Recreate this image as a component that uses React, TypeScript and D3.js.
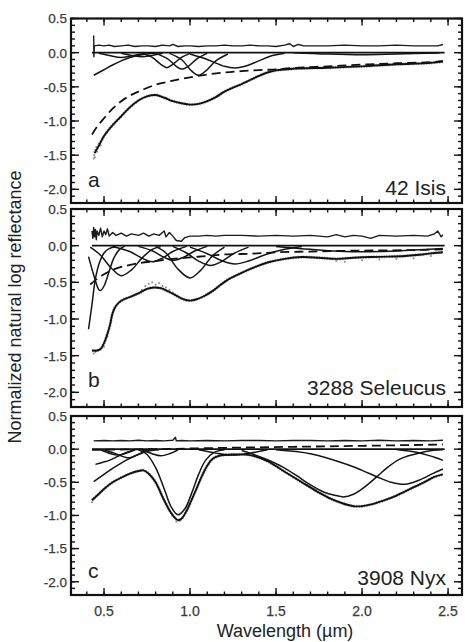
import React from "react";
import * as d3 from "d3";

type P = [number, number];

// ---------- tick values ----------
const X_TICKS = [0.5, 1.0, 1.5, 2.0, 2.5];
const X_TICK_LABELS = ["0.5", "1.0", "1.5", "2.0", "2.5"];
const Y_TICKS = [0.5, 0.0, -0.5, -1.0, -1.5, -2.0];
const Y_TICK_LABELS = ["0.5", "0.0", "-0.5", "-1.0", "-1.5", "-2.0"];
const PANEL_LETTERS = ["a", "b", "c"];
const PANEL_NAMES = ["42 Isis", "3288 Seleucus", "3908 Nyx"];

// ---------- panel a : 42 Isis ----------
const RES_A: P[] = [[0.44,0.25],[0.441,-0.06],[0.444,0.1],[0.47,0.11],[0.5,0.1],[0.53,0.11],[0.56,0.09],[0.6,0.1],[0.64,0.11],[0.68,0.09],[0.72,0.1],[0.76,0.1],[0.8,0.09],[0.84,0.11],[0.88,0.1],[0.9,0.12],[0.93,0.09],[0.97,0.1],[1.0,0.1],[1.05,0.09],[1.1,0.1],[1.15,0.1],[1.2,0.11],[1.25,0.1],[1.3,0.1],[1.35,0.11],[1.4,0.1],[1.45,0.1],[1.5,0.09],[1.55,0.11],[1.58,0.13],[1.6,0.09],[1.63,0.12],[1.66,0.1],[1.7,0.1],[1.8,0.1],[1.9,0.11],[2.0,0.1],[2.1,0.1],[2.2,0.11],[2.3,0.1],[2.38,0.1],[2.44,0.1],[2.47,0.12]];
const FIT_A: P[] = [[0.445,-1.47],[0.47,-1.36],[0.5,-1.22],[0.55,-1.06],[0.6,-0.93],[0.65,-0.8],[0.7,-0.7],[0.75,-0.64],[0.8,-0.62],[0.85,-0.66],[0.9,-0.71],[0.95,-0.74],[1.0,-0.76],[1.05,-0.75],[1.1,-0.71],[1.15,-0.65],[1.2,-0.57],[1.25,-0.51],[1.3,-0.46],[1.35,-0.4],[1.4,-0.34],[1.45,-0.29],[1.5,-0.26],[1.6,-0.235],[1.8,-0.22],[2.0,-0.2],[2.2,-0.17],[2.4,-0.15],[2.47,-0.13]];
const DATA_A: P[] = [[0.44,-1.55],[0.443,-1.5],[0.447,-1.53],[0.45,-1.42],[0.455,-1.38],[0.46,-1.45],[0.47,-1.33],[0.48,-1.36]];
const CONT_A: P[] = [[0.43,-1.2],[0.46,-1.08],[0.5,-0.96],[0.55,-0.82],[0.6,-0.71],[0.65,-0.63],[0.7,-0.57],[0.8,-0.47],[0.9,-0.41],[1.0,-0.36],[1.1,-0.32],[1.2,-0.29],[1.3,-0.27],[1.4,-0.255],[1.5,-0.245],[1.6,-0.225],[1.8,-0.2],[2.0,-0.175],[2.2,-0.155],[2.4,-0.14],[2.47,-0.125]];
const BANDS_A: P[][] = [
  [[0.44,-0.33],[0.5,-0.25],[0.55,-0.18],[0.6,-0.12],[0.65,-0.07],[0.72,-0.03],[0.8,-0.01]],
  [[0.47,-0.01],[0.53,-0.04],[0.6,-0.07],[0.67,-0.04],[0.74,-0.01]],
  [[0.6,-0.01],[0.66,-0.04],[0.72,-0.06],[0.78,-0.04],[0.84,-0.01]],
  [[0.72,-0.01],[0.78,-0.07],[0.83,-0.17],[0.865,-0.22],[0.9,-0.17],[0.95,-0.07],[1.0,-0.01]],
  [[0.8,-0.01],[0.87,-0.09],[0.92,-0.2],[0.95,-0.24],[0.99,-0.2],[1.04,-0.09],[1.1,-0.01]],
  [[0.88,-0.01],[0.95,-0.1],[1.01,-0.27],[1.05,-0.33],[1.09,-0.27],[1.15,-0.12],[1.22,-0.02]],
  [[1.0,-0.02],[1.1,-0.1],[1.2,-0.2],[1.26,-0.225],[1.32,-0.2],[1.4,-0.12],[1.47,-0.05],[1.55,-0.01]],
  [[1.6,0],[1.8,-0.02],[2.0,-0.03],[2.2,-0.02],[2.45,-0.005]],
];

// ---------- panel b : 3288 Seleucus ----------
const RES_B: P[] = [[0.43,0.2],[0.435,0.1],[0.44,0.25],[0.445,0.12],[0.45,0.22],[0.455,0.08],[0.46,0.2],[0.47,0.14],[0.48,0.24],[0.49,0.12],[0.5,0.2],[0.51,0.15],[0.52,0.23],[0.53,0.13],[0.55,0.18],[0.57,0.14],[0.6,0.17],[0.63,0.13],[0.66,0.16],[0.7,0.14],[0.73,0.17],[0.76,0.13],[0.79,0.16],[0.82,0.14],[0.85,0.2],[0.86,0.12],[0.88,0.18],[0.9,0.13],[0.92,0.07],[0.95,0.06],[0.97,0.11],[1.0,0.13],[1.05,0.13],[1.1,0.14],[1.15,0.13],[1.2,0.14],[1.3,0.14],[1.4,0.13],[1.5,0.14],[1.6,0.13],[1.7,0.14],[1.8,0.12],[1.85,0.15],[1.9,0.12],[1.95,0.14],[2.0,0.13],[2.05,0.1],[2.1,0.14],[2.2,0.13],[2.3,0.14],[2.38,0.13],[2.42,0.16],[2.44,0.2],[2.46,0.12],[2.47,0.15]];
const FIT_B: P[] = [[0.43,-1.43],[0.46,-1.43],[0.48,-1.41],[0.5,-1.33],[0.52,-1.2],[0.535,-1.08],[0.55,-0.92],[0.57,-0.82],[0.6,-0.75],[0.65,-0.7],[0.7,-0.65],[0.75,-0.59],[0.79,-0.57],[0.83,-0.58],[0.87,-0.62],[0.92,-0.68],[0.96,-0.73],[1.0,-0.75],[1.04,-0.73],[1.08,-0.69],[1.13,-0.62],[1.18,-0.53],[1.23,-0.45],[1.3,-0.37],[1.38,-0.29],[1.45,-0.23],[1.55,-0.18],[1.65,-0.155],[1.75,-0.165],[1.85,-0.18],[1.95,-0.165],[2.05,-0.155],[2.15,-0.15],[2.25,-0.14],[2.35,-0.12],[2.42,-0.1],[2.47,-0.09]];
const DATA_B: P[] = [[0.44,-1.47],[0.45,-1.45],[0.5,-1.38],[0.51,-1.28],[0.52,-1.24],[0.54,-1.02],[0.72,-0.6],[0.74,-0.55],[0.76,-0.52],[0.78,-0.5],[0.8,-0.53],[0.82,-0.51],[0.84,-0.55],[0.86,-0.57],[0.88,-0.6],[0.9,-0.64],[1.85,-0.21],[1.9,-0.22],[2.0,-0.2],[2.1,-0.19],[2.2,-0.18],[2.3,-0.17],[2.4,-0.14]];
const CONT_B: P[] = [[0.42,-0.53],[0.45,-0.47],[0.5,-0.39],[0.55,-0.33],[0.6,-0.29],[0.7,-0.24],[0.8,-0.21],[0.9,-0.18],[1.0,-0.16],[1.1,-0.14],[1.2,-0.12],[1.35,-0.11],[1.5,-0.09],[1.7,-0.08],[1.9,-0.07],[2.1,-0.065],[2.3,-0.06],[2.47,-0.05]];
const BANDS_B: P[][] = [
  [[0.41,-1.14],[0.43,-0.8],[0.45,-0.45],[0.475,-0.22],[0.5,-0.1],[0.53,-0.04],[0.57,-0.01]],
  [[0.41,-0.15],[0.44,-0.4],[0.47,-0.6],[0.48,-0.61],[0.5,-0.55],[0.53,-0.35],[0.555,-0.18],[0.59,-0.05],[0.62,-0.01]],
  [[0.42,-0.02],[0.48,-0.13],[0.54,-0.3],[0.6,-0.41],[0.66,-0.33],[0.72,-0.17],[0.78,-0.05],[0.83,-0.01]],
  [[0.55,-0.01],[0.65,-0.08],[0.72,-0.17],[0.78,-0.22],[0.84,-0.17],[0.9,-0.08],[0.98,-0.01]],
  [[0.7,-0.01],[0.78,-0.07],[0.85,-0.16],[0.9,-0.2],[0.96,-0.16],[1.03,-0.07],[1.1,-0.01]],
  [[0.8,-0.01],[0.86,-0.1],[0.93,-0.32],[1.0,-0.44],[1.06,-0.34],[1.13,-0.14],[1.2,-0.02]],
  [[0.9,-0.01],[0.98,-0.1],[1.05,-0.21],[1.12,-0.27],[1.18,-0.22],[1.26,-0.1],[1.34,-0.02]],
  [[1.0,-0.02],[1.1,-0.11],[1.19,-0.21],[1.26,-0.25],[1.34,-0.21],[1.44,-0.12],[1.55,-0.05],[1.65,-0.01]],
  [[1.5,-0.01],[1.7,-0.05],[1.9,-0.08],[2.1,-0.08],[2.3,-0.06],[2.47,-0.04]],
];

// ---------- panel c : 3908 Nyx ----------
const RES_C: P[] = [[0.44,0.125],[0.5,0.13],[0.55,0.125],[0.6,0.13],[0.65,0.125],[0.7,0.135],[0.75,0.125],[0.8,0.13],[0.85,0.125],[0.9,0.135],[0.915,0.18],[0.92,0.125],[0.95,0.13],[1.0,0.125],[1.1,0.13],[1.2,0.125],[1.3,0.13],[1.4,0.13],[1.5,0.125],[1.6,0.13],[1.7,0.13],[1.8,0.125],[1.9,0.13],[2.0,0.125],[2.1,0.135],[2.2,0.125],[2.3,0.13],[2.4,0.125],[2.47,0.135]];
const FIT_C: P[] = [[0.43,-0.77],[0.46,-0.7],[0.5,-0.6],[0.55,-0.5],[0.6,-0.43],[0.65,-0.37],[0.7,-0.33],[0.73,-0.32],[0.76,-0.37],[0.8,-0.5],[0.84,-0.72],[0.88,-0.92],[0.91,-1.03],[0.93,-1.07],[0.95,-1.05],[0.98,-0.93],[1.01,-0.76],[1.04,-0.58],[1.07,-0.4],[1.1,-0.25],[1.13,-0.15],[1.17,-0.1],[1.25,-0.08],[1.35,-0.09],[1.45,-0.18],[1.55,-0.34],[1.65,-0.5],[1.74,-0.64],[1.82,-0.75],[1.89,-0.82],[1.95,-0.86],[2.0,-0.86],[2.06,-0.83],[2.12,-0.78],[2.2,-0.7],[2.28,-0.6],[2.36,-0.5],[2.42,-0.42],[2.47,-0.38]];
const DATA_C: P[] = [[0.43,-0.8],[0.44,-0.75],[0.92,-1.09],[0.94,-1.08],[1.9,-0.84],[1.95,-0.87],[2.0,-0.87]];
const CONT_C: P[] = [[0.43,-0.01],[0.8,0.0],[1.2,0.02],[1.6,0.035],[2.0,0.05],[2.47,0.07]];
const BANDS_C: P[][] = [
  [[0.7,-0.01],[0.75,-0.08],[0.8,-0.28],[0.85,-0.6],[0.89,-0.87],[0.93,-0.99],[0.97,-0.9],[1.01,-0.66],[1.05,-0.38],[1.09,-0.17],[1.14,-0.05],[1.2,-0.01]],
  [[0.44,-0.49],[0.5,-0.38],[0.55,-0.29],[0.6,-0.21],[0.65,-0.14],[0.7,-0.08],[0.76,-0.03],[0.82,-0.01]],
  [[0.45,-0.23],[0.49,-0.2],[0.53,-0.17],[0.58,-0.11],[0.63,-0.05],[0.68,-0.01]],
  [[0.5,-0.01],[0.56,-0.06],[0.62,-0.12],[0.65,-0.13],[0.69,-0.09],[0.74,-0.03],[0.78,-0.005]],
  [[0.48,-0.01],[0.54,-0.07],[0.58,-0.09],[0.63,-0.06],[0.68,-0.01]],
  [[0.72,-0.01],[0.78,-0.07],[0.83,-0.1],[0.88,-0.07],[0.93,-0.01]],
  [[1.05,-0.01],[1.15,-0.06],[1.25,-0.09],[1.35,-0.06],[1.45,-0.01]],
  [[1.3,-0.02],[1.35,-0.06],[1.45,-0.16],[1.54,-0.27],[1.62,-0.4],[1.7,-0.54],[1.78,-0.65],[1.85,-0.7],[1.89,-0.72],[1.95,-0.68],[2.0,-0.6],[2.08,-0.43],[2.15,-0.27],[2.22,-0.15],[2.3,-0.08],[2.38,-0.03],[2.47,-0.01]],
  [[1.5,-0.01],[1.7,-0.07],[1.9,-0.22],[2.0,-0.32],[2.09,-0.42],[2.17,-0.5],[2.25,-0.53],[2.33,-0.47],[2.41,-0.37],[2.47,-0.3]],
  [[2.2,-0.005],[2.3,-0.04],[2.38,-0.09],[2.43,-0.13],[2.47,-0.17]],
];

const ZERO_LINE: P[] = [[0.43, 0], [2.48, 0]];

const RESIDUALS = [RES_A, RES_B, RES_C];
const FITS = [FIT_A, FIT_B, FIT_C];
const DATAS = [DATA_A, DATA_B, DATA_C];
const CONTS = [CONT_A, CONT_B, CONT_C];
const BANDS = [BANDS_A, BANDS_B, BANDS_C];

// ---------- layout ----------
const W = 465;
const H = 642;
const LEFT = 71;
const RIGHT = 462;
const PANEL_TOPS = [18.5, 209, 416];
const PANEL_BOTTOMS = [203, 407, 595];
const LETTER_Y = [187, 387, 578];
const NAME_Y = [195, 395, 585];

const xScale = d3.scaleLinear().domain([0.308, 2.581]).range([LEFT, RIGHT]);
const FONT = "Liberation Sans, Arial, Helvetica, sans-serif";

function Panel({ i }: { i: number }) {
  const top = PANEL_TOPS[i];
  const bottom = PANEL_BOTTOMS[i];
  const y = d3.scaleLinear().domain([-2.2, 0.5]).range([bottom, top]);
  const smooth = d3
    .line<P>()
    .x((d) => xScale(d[0]))
    .y((d) => y(d[1]))
    .curve(d3.curveCatmullRom.alpha(0.5));
  const lin = d3
    .line<P>()
    .x((d) => xScale(d[0]))
    .y((d) => y(d[1]));

  const xMinor = d3.range(0.4, 2.55, 0.1).filter((v) => v > 0.31 && v < 2.58);
  const yMinor = d3.range(-2.2, 0.51, 0.1);
  const clipId = `clip${i}`;

  return (
    <g>
      <defs>
        <clipPath id={clipId}>
          <rect x={LEFT} y={top} width={RIGHT - LEFT} height={bottom - top} />
        </clipPath>
      </defs>
      <g clipPath={`url(#${clipId})`} fill="none" strokeLinejoin="round">
        <path d={smooth(FITS[i]) || ""} stroke="#aaaaaa" strokeWidth={3.2} strokeDasharray="1.2 1.4" />
        {DATAS[i].map((d, k) => (
          <circle key={k} cx={xScale(d[0])} cy={y(d[1])} r={1} fill="#8a8a8a" stroke="none" />
        ))}
        {BANDS[i].map((b, k) => (
          <path key={k} d={smooth(b) || ""} stroke="#151515" strokeWidth={1.5} />
        ))}
        <path d={lin(ZERO_LINE) || ""} stroke="#111" strokeWidth={1.8} />
        <path d={lin(RESIDUALS[i]) || ""} stroke="#1a1a1a" strokeWidth={1.4} />
        <path d={smooth(CONTS[i]) || ""} stroke="#111" strokeWidth={1.8} strokeDasharray="9 5" />
        <path d={smooth(FITS[i]) || ""} stroke="#111" strokeWidth={1.9} />
      </g>
      {/* ticks */}
      <g stroke="#111" strokeWidth={1.4}>
        {xMinor.map((v, k) => (
          <g key={"xm" + k}>
            <line x1={xScale(v)} x2={xScale(v)} y1={bottom} y2={bottom - 3.5} />
            <line x1={xScale(v)} x2={xScale(v)} y1={top} y2={top + 3.5} />
          </g>
        ))}
        {X_TICKS.map((v, k) => (
          <g key={"xM" + k}>
            <line x1={xScale(v)} x2={xScale(v)} y1={bottom} y2={bottom - 7} />
            <line x1={xScale(v)} x2={xScale(v)} y1={top} y2={top + 7} />
          </g>
        ))}
        {yMinor.map((v, k) => (
          <g key={"ym" + k}>
            <line x1={LEFT} x2={LEFT + 4} y1={y(v)} y2={y(v)} />
            <line x1={RIGHT} x2={RIGHT - 4} y1={y(v)} y2={y(v)} />
          </g>
        ))}
        {Y_TICKS.map((v, k) => (
          <g key={"yM" + k}>
            <line x1={LEFT} x2={LEFT + 8} y1={y(v)} y2={y(v)} />
            <line x1={RIGHT} x2={RIGHT - 8} y1={y(v)} y2={y(v)} />
          </g>
        ))}
      </g>
      <rect x={LEFT} y={top} width={RIGHT - LEFT} height={bottom - top} fill="none" stroke="#111" strokeWidth={2.2} />
      {Y_TICKS.map((v, k) => (
        <text key={"yl" + k} x={LEFT - 4} y={y(v)} dy="0.36em" textAnchor="end" fontSize={13.5} fill="#3a3a3a" fontFamily={FONT} stroke="#3a3a3a" strokeWidth={0.25}>
          {Y_TICK_LABELS[k]}
        </text>
      ))}
      <text x={88} y={LETTER_Y[i]} fontSize={21} fill="#222" fontFamily={FONT}>
        {PANEL_LETTERS[i]}
      </text>
      <text x={446} y={NAME_Y[i]} fontSize={21} fill="#222" textAnchor="end" fontFamily={FONT}>
        {PANEL_NAMES[i]}
      </text>
    </g>
  );
}

export default function App() {
  return (
    <svg width={W} height={H} style={{ position: "absolute", left: 0, top: 0, background: "#fff" }}>
      <rect width={W} height={H} fill="#fff" />
      {[0, 1, 2].map((i) => (
        <Panel key={i} i={i} />
      ))}
      {X_TICKS.map((v, k) => (
        <text key={k} x={xScale(v)} y={616} textAnchor="middle" fontSize={14} fill="#3a3a3a" fontFamily={FONT} stroke="#3a3a3a" strokeWidth={0.25}>
          {X_TICK_LABELS[k]}
        </text>
      ))}
      <text x={285} y={637} textAnchor="middle" fontSize={18} fill="#222" fontFamily={FONT}>
        Wavelength (µm)
      </text>
      <text transform="translate(21,307) rotate(-90)" textAnchor="middle" fontSize={18} fill="#222" fontFamily={FONT}>
        Normalized natural log reflectance
      </text>
    </svg>
  );
}
